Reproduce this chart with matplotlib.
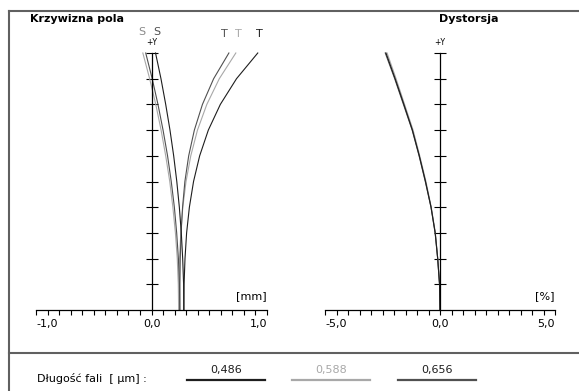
import matplotlib
matplotlib.use("Agg")
import matplotlib.pyplot as plt
from matplotlib.lines import Line2D
import numpy as np

# relative field height (0 = axis, 1 = edge of field)
field = [0.0, 0.1, 0.2, 0.3, 0.4, 0.5, 0.6, 0.7, 0.8, 0.9, 1.0]

wavelengths = ["0,486", "0,588", "0,656"]
colors = ["#1e1e1e", "#a8a8a8", "#505050"]

# field curvature [mm], sagittal and tangential, per wavelength
sag_486 = [0.280, 0.278, 0.270, 0.258, 0.241, 0.219, 0.192, 0.160, 0.123, 0.082, 0.035]
sag_588 = [0.235, 0.232, 0.223, 0.207, 0.185, 0.158, 0.123, 0.083, 0.037, -0.016, -0.075]
sag_656 = [0.245, 0.242, 0.233, 0.218, 0.198, 0.171, 0.139, 0.100, 0.056, 0.006, -0.050]
tan_486 = [0.280, 0.282, 0.290, 0.304, 0.328, 0.364, 0.417, 0.492, 0.596, 0.736, 0.920]
tan_588 = [0.235, 0.237, 0.242, 0.254, 0.271, 0.299, 0.340, 0.398, 0.479, 0.587, 0.730]
tan_656 = [0.245, 0.246, 0.249, 0.256, 0.269, 0.289, 0.322, 0.371, 0.441, 0.538, 0.670]

# distortion [%]
dist_486 = [0.0, -0.02, -0.10, -0.21, -0.39, -0.63, -0.90, -1.20, -1.57, -1.95, -2.35]
dist_588 = [0.0, -0.02, -0.10, -0.20, -0.38, -0.61, -0.88, -1.17, -1.54, -1.91, -2.30]
dist_656 = [0.0, -0.02, -0.10, -0.21, -0.39, -0.64, -0.91, -1.21, -1.59, -1.97, -2.38]

W, H = 579, 391


def px_axes(fig, x0, x1, ytop, ybot):
    return fig.add_axes([x0 / W, 1 - ybot / H, (x1 - x0) / W, (ybot - ytop) / H])


def fx(x):
    return x / W


def fy(y):
    return 1 - y / H


def style_axes(ax, xmax, step, unit):
    ax.set_xlim(-xmax, xmax)
    ax.set_ylim(0, 1)
    ax.patch.set_visible(False)
    for s in ["top", "right"]:
        ax.spines[s].set_visible(False)
    ax.spines["left"].set_position(("data", 0))
    ax.spines["left"].set_bounds(0, 1)
    for s in ["left", "bottom"]:
        ax.spines[s].set_linewidth(0.9)
        ax.spines[s].set_color("black")
    ax.set_xticks([-xmax, 0, xmax])
    ax.set_xticklabels(["-%d,0" % xmax, "0,0", "%d,0" % xmax])
    ax.set_xticks(np.arange(-xmax, xmax + step / 2, step), minor=True)
    ax.tick_params(axis="x", which="both", direction="out", length=3.6,
                   width=0.8, pad=3, labelsize=8)
    labels = ax.get_xticklabels()
    labels[0].set_ha("left")
    labels[2].set_ha("right")
    ax.set_yticks(np.arange(0.1, 1.05, 0.1))
    ax.set_yticklabels([])
    ax.tick_params(axis="y", direction="inout", length=8.5, width=0.8)
    ax.text(xmax, 0.035, unit, ha="right", va="bottom", fontsize=8)
    ax.text(0, 1.022, "+Y", ha="center", va="bottom", fontsize=5.5)


def main():
    fig = plt.figure(figsize=(W / 100, H / 100), dpi=100)

    # field curvature
    ax1 = px_axes(fig, 36, 267, 53, 310)
    style_axes(ax1, 1, 0.1, "[mm]")
    sags = [sag_486, sag_588, sag_656]
    tans = [tan_486, tan_588, tan_656]
    for i in [1, 2, 0]:
        ax1.plot(sags[i], field, color=colors[i], lw=0.8, clip_on=False)
        ax1.plot(tans[i], field, color=colors[i], lw=0.8, clip_on=False)
    ax1.text(-0.082, 1.08, "S", color="#8a8a8a", ha="center", va="center", fontsize=8)
    ax1.text(0.043, 1.08, "S", color="#505050", ha="center", va="center", fontsize=8)
    ax1.text(0.628, 1.075, "T", color="#505050", ha="center", va="center", fontsize=8)
    ax1.text(0.749, 1.075, "T", color="#a8a8a8", ha="center", va="center", fontsize=8)
    ax1.text(0.935, 1.075, "T", color="#1e1e1e", ha="center", va="center", fontsize=8)

    # distortion
    ax2 = px_axes(fig, 325, 555, 53, 310)
    style_axes(ax2, 5, 0.5, "[%]")
    dists = [dist_486, dist_588, dist_656]
    for i in [1, 2, 0]:
        ax2.plot(dists[i], field, color=colors[i], lw=0.8, clip_on=False)

    # titles
    fig.text(fx(30), fy(19), "Krzywizna pola", fontsize=8, fontweight="bold",
             ha="left", va="center")
    fig.text(fx(469), fy(19), "Dystorsja", fontsize=8, fontweight="bold",
             ha="center", va="center")

    # frame
    fc = "#606060"
    fig.add_artist(Line2D([fx(9), fx(9)], [fy(11), fy(391)], color=fc, lw=1.5))
    fig.add_artist(Line2D([fx(9), fx(579)], [fy(11), fy(11)], color=fc, lw=1.5))
    fig.add_artist(Line2D([fx(9), fx(579)], [fy(353), fy(353)], color=fc, lw=1.5))

    # wavelength legend
    fig.text(fx(37), fy(378), "D\u0142ugo\u015b\u0107 fali  [ \u03bcm] :", fontsize=8,
             ha="left", va="center")
    starts = [187, 292, 398]
    for i in range(3):
        x0 = starts[i]
        fig.add_artist(Line2D([fx(x0), fx(x0 + 78)], [fy(379.5), fy(379.5)],
                              color=colors[i], lw=1.6))
        tc = colors[i] if i == 1 else "#1e1e1e"
        fig.text(fx(x0 + 39), fy(370), wavelengths[i], fontsize=8, color=tc,
                 ha="center", va="center")

    fig.savefig("out.png", dpi=100)
    plt.close()


if __name__ == "__main__":
    main()
